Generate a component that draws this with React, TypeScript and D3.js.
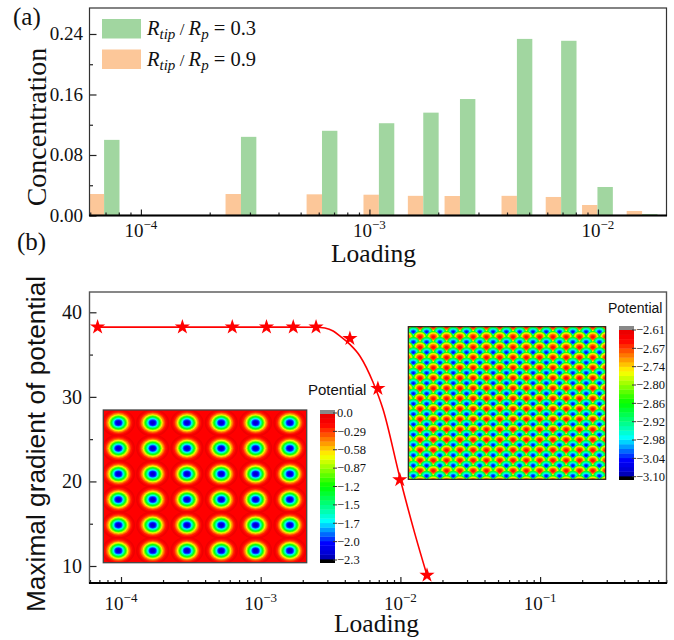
import React, { useRef, useEffect } from "react";
import * as d3 from "d3";

const loading = [6.9e-5, 2.74e-4, 6.2e-4, 1.1e-3, 1.72e-3, 2.49e-3, 4.42e-3, 6.9e-3, 9.95e-3, 1.56e-2];
const concTip03 = [0.1, 0.104, 0.112, 0.122, 0.136, 0.154, 0.2335, 0.231, 0.0377, 0.002];
const concTip09 = [0.0284, 0.0284, 0.028, 0.0275, 0.026, 0.0258, 0.026, 0.0245, 0.0139, 0.006];

const gradLoading = [6.8e-5, 2.75e-4, 6.26e-4, 1.1e-3, 1.71e-3, 2.49e-3, 4.35e-3, 6.9e-3, 9.9e-3, 1.55e-2];
const gradValues = [38.25, 38.25, 38.25, 38.25, 38.25, 38.25, 36.9, 31.0, 20.2, 8.9];

const fitLoading = [6.8e-5, 1e-3, 2.49e-3, 2.88e-3, 3.3e-3, 3.7e-3, 4.35e-3, 5.14e-3, 6.37e-3, 7.51e-3, 9.93e-3, 1.27e-2, 1.55e-2];
const fitValues = [38.25, 38.25, 38.24, 38.14, 37.79, 37.18, 36.2, 34.81, 31.73, 28.54, 20.4, 13.8, 8.9];

const concTicks = [0, 0.08, 0.16, 0.24];
const concMinor = [0.04, 0.12, 0.2];
const gradTicks = [10, 20, 30, 40];
const gradMinor = [15, 25, 35];

const cbar1Labels = ["0.0", "−0.29", "−0.58", "−0.87", "−1.2", "−1.5", "−1.7", "−2.0", "−2.3"];
const cbar2Labels = ["−2.61", "−2.67", "−2.74", "−2.80", "−2.86", "−2.92", "−2.98", "−3.04", "−3.10"];

const jetPos = [0, 0.02, 0.11, 0.26, 0.35, 0.5, 0.716, 0.8, 0.93, 1];
const jetColors = ["#00007a", "#0000c8", "#0000ff", "#00ffff", "#00ff99", "#00ff00", "#ffff00", "#ff9900", "#ff0000", "#e60000"];

// potential against distance from a well centre, inset 1 (distance in well pitches)
const wellRadius = [0.5, 0.36, 0.29, 0.21, 0.145, 0.1, 0.03];
const wellPotential = [-0.02, -0.29, -0.58, -1.2, -1.7, -2.0, -2.3];

// inset 2, around maxima and minima
const peakRadius = [0.5, 0.36, 0.25, 0.12];
const peakPotential = [-2.86, -2.76, -2.69, -2.65];
const dipRadius = [0.46, 0.26, 0.17, 0.06];
const dipPotential = [-2.86, -2.96, -3.02, -3.05];

const serif = "'Liberation Serif', 'Times New Roman', serif";
const sans = "'Liberation Sans', Arial, sans-serif";

const logTicks = (lo: number, hi: number) => {
  const out: number[] = [];
  for (let e = lo; e <= hi; e++) for (let m = 2; m <= 9; m++) out.push(m * 10 ** e);
  return out;
};

const App = () => {
  const ref = useRef<SVGSVGElement>(null);

  useEffect(() => {
    const svg = d3.select(ref.current);
    svg.selectAll("*").remove();

    const jet = d3.scaleLinear<string>().domain(jetPos).range(jetColors).interpolate(d3.interpolateRgb);

    const decadeLabel = (g: any, xv: number, exp: number, base: number) => {
      const t = g
        .append("text")
        .attr("x", xv)
        .attr("y", base)
        .attr("text-anchor", "middle")
        .attr("font-size", 19)
        .attr("font-family", serif)
        .attr("fill", "#111");
      t.append("tspan").text("10");
      t.append("tspan").attr("dy", -8).attr("font-size", 13).text(`−${exp}`);
    };

    const styleAxis = (g: any) => {
      g.selectAll(".domain").remove();
      g.selectAll(".tick line").attr("stroke", "#222").attr("stroke-width", 1.2);
      g.selectAll(".tick text").remove();
    };

    // ---- panel (a)
    const ax = d3.scaleLog().domain([10 ** -4.225, 10 ** -1.7]).range([89.5, 666.5]);
    const ay = d3.scaleLinear().domain([0, 0.2737]).range([215.5, 8.5]);
    const barW = 15.4;

    svg
      .append("clipPath")
      .attr("id", "clipA")
      .append("rect")
      .attr("x", 89.5)
      .attr("y", 8.5)
      .attr("width", 577)
      .attr("height", 207);

    const bars = svg.append("g").attr("clip-path", "url(#clipA)");
    bars
      .selectAll("rect.o")
      .data(loading)
      .enter()
      .append("rect")
      .attr("class", "o")
      .attr("x", (d) => ax(d) - barW)
      .attr("width", barW)
      .attr("y", (d, i) => ay(concTip09[i]))
      .attr("height", (d, i) => ay(0) - ay(concTip09[i]))
      .attr("fill", "#fcc799");
    bars
      .selectAll("rect.g")
      .data(loading)
      .enter()
      .append("rect")
      .attr("class", "g")
      .attr("x", (d) => ax(d))
      .attr("width", barW)
      .attr("y", (d, i) => ay(concTip03[i]))
      .attr("height", (d, i) => ay(0) - ay(concTip03[i]))
      .attr("fill", "#a1d6a0");

    const axMajor = [1e-4, 1e-3, 1e-2];
    const axMinor = logTicks(-5, -2).filter((v) => v >= ax.domain()[0] && v <= ax.domain()[1]);
    svg
      .append("g")
      .attr("transform", "translate(0,215.5)")
      .call(d3.axisBottom(ax).tickValues(axMajor).tickSize(-6).tickFormat(() => "") as any)
      .call(styleAxis);
    svg
      .append("g")
      .attr("transform", "translate(0,215.5)")
      .call(d3.axisBottom(ax).tickValues(axMinor).tickSize(-3).tickFormat(() => "") as any)
      .call(styleAxis);
    svg
      .append("g")
      .attr("transform", "translate(89.5,0)")
      .call(d3.axisLeft(ay).tickValues(concTicks).tickSize(-7).tickFormat(() => "") as any)
      .call(styleAxis);
    svg
      .append("g")
      .attr("transform", "translate(89.5,0)")
      .call(d3.axisLeft(ay).tickValues(concMinor).tickSize(-3.5).tickFormat(() => "") as any)
      .call(styleAxis);

    svg
      .append("rect")
      .attr("x", 89.5)
      .attr("y", 8)
      .attr("width", 577)
      .attr("height", 207.5)
      .attr("fill", "none")
      .attr("stroke", "#333")
      .attr("stroke-width", 1.2);
    svg.append("line").attr("x1", 89).attr("x2", 667).attr("y1", 215.5).attr("y2", 215.5).attr("stroke", "#000").attr("stroke-width", 2);

    concTicks.forEach((v) => {
      svg
        .append("text")
        .attr("x", 83)
        .attr("y", ay(v) + 6.5)
        .attr("text-anchor", "end")
        .attr("font-size", 19)
        .attr("font-family", serif)
        .attr("fill", "#111")
        .text(v.toFixed(2));
    });
    axMajor.forEach((v, i) => decadeLabel(svg, ax(v), 4 - i, 236.5));

    svg
      .append("text")
      .attr("transform", "translate(46,127) rotate(-90)")
      .attr("text-anchor", "middle")
      .attr("font-size", 28)
      .attr("font-family", serif)
      .attr("fill", "#111")
      .text("Concentration");
    svg.append("text").attr("x", 373.5).attr("y", 262).attr("text-anchor", "middle").attr("font-size", 25.5).attr("font-family", serif).attr("fill", "#111").text("Loading");
    svg.append("text").attr("x", 13).attr("y", 25).attr("font-size", 25).attr("font-family", serif).attr("fill", "#111").text("(a)");
    svg.append("text").attr("x", 17).attr("y", 250).attr("font-size", 25).attr("font-family", serif).attr("fill", "#111").text("(b)");

    // legend
    const legendRows = [
      { color: "#a1d6a0", top: 19, value: "0.3" },
      { color: "#fcc799", top: 49.5, value: "0.9" },
    ];
    legendRows.forEach((r) => {
      svg.append("rect").attr("x", 102).attr("y", r.top).attr("width", 39).attr("height", 19.5).attr("fill", r.color);
      const t = svg.append("text").attr("x", 147).attr("y", r.top + 16).attr("font-size", 20.5).attr("font-family", serif).attr("fill", "#111");
      t.append("tspan").attr("font-style", "italic").text("R");
      t.append("tspan").attr("font-style", "italic").attr("font-size", 15).attr("dy", 4).text("tip");
      t.append("tspan").attr("font-size", 17).attr("dy", -4).text(" / ");
      t.append("tspan").attr("font-style", "italic").text("R");
      t.append("tspan").attr("font-style", "italic").attr("font-size", 15).attr("dy", 4).text("p");
      t.append("tspan").attr("dy", -4).text(` = ${r.value}`);
    });

    // ---- panel (b)
    const bx = d3.scaleLog().domain([10 ** (-4 - 31.5 / 139.7), 10 ** (-4 + 545.5 / 139.7)]).range([89.5, 666.5]);
    const by = d3.scaleLinear().domain([10, 40]).range([566, 312.3]);

    const bxMajor = [1e-4, 1e-3, 1e-2, 1e-1];
    const bxMinor = logTicks(-5, -1).filter((v) => v >= bx.domain()[0] && v <= bx.domain()[1]);
    svg
      .append("g")
      .attr("transform", "translate(0,583)")
      .call(d3.axisBottom(bx).tickValues(bxMajor).tickSize(-6).tickFormat(() => "") as any)
      .call(styleAxis);
    svg
      .append("g")
      .attr("transform", "translate(0,583)")
      .call(d3.axisBottom(bx).tickValues(bxMinor).tickSize(-3).tickFormat(() => "") as any)
      .call(styleAxis);
    svg
      .append("g")
      .attr("transform", "translate(89.5,0)")
      .call(d3.axisLeft(by).tickValues(gradTicks).tickSize(-7).tickFormat(() => "") as any)
      .call(styleAxis);
    svg
      .append("g")
      .attr("transform", "translate(89.5,0)")
      .call(d3.axisLeft(by).tickValues(gradMinor).tickSize(-3.5).tickFormat(() => "") as any)
      .call(styleAxis);
    svg.append("rect").attr("x", 89.5).attr("y", 292).attr("width", 577).attr("height", 291).attr("fill", "none").attr("stroke", "#555").attr("stroke-width", 1.4);
    svg.append("line").attr("x1", 89).attr("x2", 667).attr("y1", 583).attr("y2", 583).attr("stroke", "#000").attr("stroke-width", 2);

    gradTicks.forEach((v) => {
      svg.append("text").attr("x", 82).attr("y", by(v) + 7).attr("text-anchor", "end").attr("font-size", 20).attr("font-family", serif).attr("fill", "#111").text(v);
    });
    bxMajor.forEach((v, i) => decadeLabel(svg, bx(v), 4 - i, 609.5));

    svg.append("text").attr("x", 376.5).attr("y", 632).attr("text-anchor", "middle").attr("font-size", 25.5).attr("font-family", serif).attr("fill", "#111").text("Loading");
    svg
      .append("text")
      .attr("transform", "translate(45,444) rotate(-90)")
      .attr("text-anchor", "middle")
      .attr("font-size", 26.3)
      .attr("font-family", sans)
      .attr("fill", "#111")
      .text("Maximal gradient of potential");

    // ---- heat map helpers
    const band = (p: number, dom: [number, number]) => jet((p - dom[0]) / (dom[1] - dom[0]));

    const colorbar = (x0: number, y0: number, y1: number, labels: string[], labTop: number, labBot: number, title: string, titleX: number, titleY: number, titleSize: number) => {
      const w = 15;
      const cb = svg.append("g");
      const steps = d3.range(32);
      const ys = d3.scaleLinear().domain([0, 32]).range([y1 - 4, y0 + 4]);
      cb.append("rect").attr("x", x0).attr("y", y0).attr("width", w).attr("height", 4).attr("fill", "#888");
      cb.append("rect").attr("x", x0).attr("y", y1 - 4).attr("width", w).attr("height", 4).attr("fill", "#000");
      cb.selectAll("rect.s")
        .data(steps)
        .enter()
        .append("rect")
        .attr("class", "s")
        .attr("x", x0)
        .attr("y", (d) => ys(d + 1))
        .attr("width", w)
        .attr("height", (d) => ys(d) - ys(d + 1) + 0.4)
        .attr("fill", (d) => jet((d + 0.5) / 32));
      const ly = d3.scaleLinear().domain([0, labels.length - 1]).range([labTop, labBot]);
      labels.forEach((l, i) => {
        cb.append("line").attr("x1", x0 + w - 2).attr("x2", x0 + w + 2).attr("y1", ly(i)).attr("y2", ly(i)).attr("stroke", "#333").attr("stroke-width", 1);
        cb.append("text").attr("x", x0 + w + 2).attr("y", ly(i) + 4.3).attr("font-size", 12.5).attr("font-family", serif).attr("fill", "#111").text(l);
      });
      svg.append("text").attr("x", titleX).attr("y", titleY).attr("font-size", titleSize).attr("font-family", sans).attr("fill", "#111").text(title);
    };

    // ---- inset 1
    const i1x = d3.scaleLinear().domain([0, 5.93]).range([103.3, 306.7]);
    const i1y = d3.scaleLinear().domain([0, 5.97]).range([410, 562.7]);
    const dom1: [number, number] = [-2.3, 0];
    svg.append("clipPath").attr("id", "clipI1").append("rect").attr("x", 103.3).attr("y", 410).attr("width", 203.4).attr("height", 152.7);
    const h1 = svg.append("g").attr("clip-path", "url(#clipI1)");
    h1.append("rect").attr("x", 103.3).attr("y", 410).attr("width", 203.4).attr("height", 152.7).attr("fill", "#ff0000");
    const rOf1 = d3.scaleLinear().domain(wellPotential).range(wellRadius);
    const levels1 = d3.range(-0.05, -2.3, -0.075);
    d3.range(6).forEach((row) => {
      d3.range(6).forEach((col) => {
        const cx = i1x(col + 0.44);
        const cy = i1y(row + 0.5);
        levels1.forEach((p) => {
          const rx = i1x(rOf1(p)) - i1x(0);
          h1.append("ellipse").attr("cx", cx).attr("cy", cy).attr("rx", rx).attr("ry", rx * 0.84).attr("fill", band(p, dom1));
        });
      });
    });
    svg.append("rect").attr("x", 103.3).attr("y", 410).attr("width", 203.4).attr("height", 152.7).attr("fill", "none").attr("stroke", "#444").attr("stroke-width", 1.3);
    colorbar(320, 410, 563, cbar1Labels, 413, 560, "Potential", 308, 395, 15);

    // ---- inset 2
    const i2x = d3.scaleLinear().domain([0, 14.85]).range([408.3, 605.7]);
    const i2y = d3.scaleLinear().domain([0, 14.82]).range([326.7, 479.3]);
    const dom2: [number, number] = [-3.1, -2.61];
    svg.append("clipPath").attr("id", "clipI2").append("rect").attr("x", 408.3).attr("y", 326.7).attr("width", 197.4).attr("height", 152.6);
    const h2 = svg.append("g").attr("clip-path", "url(#clipI2)");
    h2.append("rect").attr("x", 408.3).attr("y", 326.7).attr("width", 197.4).attr("height", 152.6).attr("fill", band(-2.86, dom2));
    const rPeak = d3.scaleLinear().domain(peakPotential).range(peakRadius);
    const rDip = d3.scaleLinear().domain(dipPotential).range(dipRadius);
    const pLevels = d3.range(-2.86, -2.645, 0.015);
    const dLevels = d3.range(-2.86, -3.055, -0.015);
    d3.range(16).forEach((row) => {
      d3.range(-1, 16).forEach((col) => {
        pLevels.forEach((p) => {
          const rx = i2x(rPeak(p)) - i2x(0);
          h2.append("ellipse").attr("cx", i2x(col + 0.88)).attr("cy", i2y(row)).attr("rx", rx).attr("ry", rx * 0.85).attr("fill", band(p, dom2));
        });
        dLevels.forEach((p) => {
          const rx = i2x(rDip(p)) - i2x(0);
          h2.append("ellipse").attr("cx", i2x(col + 0.38)).attr("cy", i2y(row + 0.5)).attr("rx", rx).attr("ry", rx * 0.85).attr("fill", band(p, dom2));
        });
      });
    });
    svg.append("rect").attr("x", 408.3).attr("y", 326.7).attr("width", 197.4).attr("height", 152.6).attr("fill", "none").attr("stroke", "#222").attr("stroke-width", 1.2);
    colorbar(619, 326, 480, cbar2Labels, 330, 476.7, "Potential", 608, 313, 14);

    // ---- fit line and stars
    const line = d3
      .line<number>()
      .x((d) => bx(d))
      .y((d, i) => by(fitValues[i]))
      .curve(d3.curveMonotoneX);
    svg.append("path").attr("d", line(fitLoading)).attr("fill", "none").attr("stroke", "#ff0000").attr("stroke-width", 1.6);

    const star = d3.symbol().type(d3.symbolStar).size(72);
    svg
      .selectAll("path.star")
      .data(gradLoading)
      .enter()
      .append("path")
      .attr("class", "star")
      .attr("d", star as any)
      .attr("transform", (d, i) => `translate(${bx(d)},${by(gradValues[i])})`)
      .attr("fill", "#ff0000");
  }, []);

  return <svg ref={ref} width={674} height={640} style={{ position: "absolute", left: 0, top: 0, background: "#fff" }}></svg>;
};

export default App;
